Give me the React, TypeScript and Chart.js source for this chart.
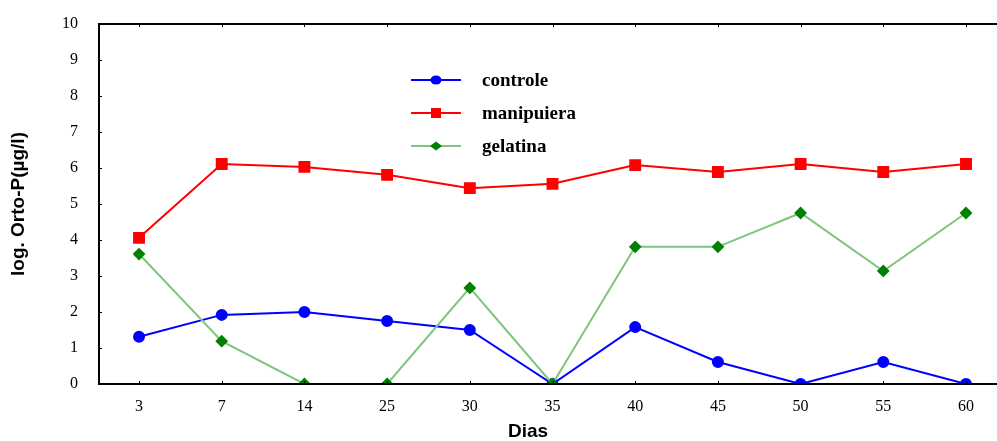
import React, { useEffect, useRef } from "react";
import { Chart, registerables } from "chart.js";

Chart.register(...registerables);

const dias: string[] = ["3", "7", "14", "25", "30", "35", "40", "45", "50", "55", "60"];
const controle: number[] = [1.31, 1.92, 2.0, 1.75, 1.5, 0, 1.58, 0.61, 0, 0.61, 0];
const manipuiera: number[] = [4.06, 6.11, 6.03, 5.81, 5.44, 5.56, 6.08, 5.89, 6.11, 5.89, 6.11];
const gelatina: number[] = [3.61, 1.19, 0, 0, 2.67, 0, 3.81, 3.81, 4.75, 3.14, 4.75];
const yTicks: number[] = [0, 1, 2, 3, 4, 5, 6, 7, 8, 9, 10];
const seriesNames: string[] = ["controle", "manipuiera", "gelatina"];
const xTitle = "Dias";
const yTitle = "log. Orto-P(µg/l)";

const SERIF = "'Liberation Serif', 'Times New Roman', serif";
const SANS = "'Liberation Sans', Arial, sans-serif";

const framePlugin = {
  id: "frame",
  afterDraw(chart: any) {
    const { ctx, chartArea } = chart;
    const { left, right, top, bottom } = chartArea;
    const xs = chart.scales.x;
    const ys = chart.scales.y;
    ctx.save();
    ctx.strokeStyle = "#000";
    ctx.lineWidth = 2;
    ctx.beginPath();
    ctx.moveTo(left, top);
    ctx.lineTo(right + 2, top);
    ctx.moveTo(left, top - 1);
    ctx.lineTo(left, bottom + 1);
    ctx.moveTo(left - 1, bottom);
    ctx.lineTo(right + 2, bottom);
    ctx.stroke();
    ctx.lineWidth = 1;
    ctx.beginPath();
    for (let i = 0; i < dias.length; i++) {
      const px = Math.round(xs.getPixelForValue(i)) + 0.5;
      ctx.moveTo(px, bottom);
      ctx.lineTo(px, bottom - 3);
      ctx.moveTo(px, top);
      ctx.lineTo(px, top + 3);
    }
    for (const v of yTicks) {
      const py = Math.round(ys.getPixelForValue(v)) + 0.5;
      ctx.moveTo(left, py);
      ctx.lineTo(left + 3, py);
    }
    ctx.stroke();

    // x title
    ctx.fillStyle = "#000";
    ctx.font = `bold 19px ${SANS}`;
    ctx.textAlign = "center";
    ctx.textBaseline = "middle";
    ctx.fillText(xTitle, 528, 432);

    // legend
    const rows = [80, 113, 146];
    chart.data.datasets.forEach((ds: any, i: number) => {
      const y = rows[i];
      ctx.strokeStyle = ds.borderColor;
      ctx.lineWidth = ds.borderWidth;
      ctx.beginPath();
      ctx.moveTo(411, y);
      ctx.lineTo(461, y);
      ctx.stroke();
      ctx.fillStyle = ds.pointBackgroundColor;
      ctx.beginPath();
      if (ds.pointStyle === "circle") {
        ctx.ellipse(436, y, 5.5, 4.5, 0, 0, Math.PI * 2);
      } else if (ds.pointStyle === "rect") {
        ctx.rect(431, y - 5, 10, 10);
      } else {
        ctx.moveTo(430, y);
        ctx.lineTo(436, y - 4.5);
        ctx.lineTo(442, y);
        ctx.lineTo(436, y + 4.5);
        ctx.closePath();
      }
      ctx.fill();
      ctx.fillStyle = "#000";
      ctx.font = `bold 19px ${SERIF}`;
      ctx.textAlign = "left";
      ctx.textBaseline = "middle";
      ctx.fillText(seriesNames[i], 482, y + 1);
    });
    ctx.restore();
  },
};

export default function App() {
  const ref = useRef<HTMLCanvasElement | null>(null);
  useEffect(() => {
    if (!ref.current) return;
    const mk = (vals: number[]) => vals.map((v, i) => ({ x: i, y: v }));
    const chart = new Chart(ref.current, {
      type: "line",
      data: {
        datasets: [
          {
            label: seriesNames[0],
            data: mk(controle),
            borderColor: "#0000ff",
            backgroundColor: "#0000ff",
            pointBackgroundColor: "#0000ff",
            pointBorderColor: "#0000ff",
            borderWidth: 2,
            pointStyle: "circle",
            pointRadius: 5,
            clip: 0,
            order: 2,
          } as any,
          {
            label: seriesNames[1],
            data: mk(manipuiera),
            borderColor: "#ff0000",
            backgroundColor: "#ff0000",
            pointBackgroundColor: "#ff0000",
            pointBorderColor: "#ff0000",
            borderWidth: 2,
            pointStyle: "rect",
            pointRadius: 7,
            clip: 0,
            order: 3,
          } as any,
          {
            label: seriesNames[2],
            data: mk(gelatina),
            borderColor: "#7fc47f",
            backgroundColor: "#008000",
            pointBackgroundColor: "#008000",
            pointBorderColor: "#008000",
            borderWidth: 2,
            pointStyle: "rectRot",
            pointRadius: 5,
            clip: 0,
            order: 1,
          } as any,
        ],
      },
      options: {
        animation: false,
        responsive: false,
        maintainAspectRatio: false,
        layout: { padding: { top: 24, right: 0, left: 0, bottom: 0 }, autoPadding: false } as any,
        plugins: { legend: { display: false }, tooltip: { enabled: false } },
        scales: {
          x: {
            type: "linear",
            min: -0.484,
            max: 10.375,
            grid: { display: false, drawTicks: false },
            border: { display: false },
            afterFit: (s: any) => {
              s.height = 57;
              s.paddingLeft = 0;
              s.paddingRight = 0;
            },
            afterBuildTicks: (s: any) => {
              s.ticks = dias.map((_, i) => ({ value: i }));
            },
            ticks: {
              autoSkip: false,
              maxRotation: 0,
              padding: 13,
              color: "#000",
              font: { family: SERIF, size: 16 },
              callback: (v: any) => dias[v as number] ?? "",
            },
          },
          y: {
            type: "linear",
            min: 0,
            max: 10,
            grid: { display: false, drawTicks: false },
            border: { display: false },
            afterFit: (s: any) => {
              s.width = 99;
              s.paddingTop = 0;
              s.paddingBottom = 0;
            },
            afterBuildTicks: (s: any) => {
              s.ticks = yTicks.map((v) => ({ value: v }));
            },
            ticks: {
              padding: 21,
              color: "#000",
              font: { family: SERIF, size: 16 },
            },
            title: {
              display: true,
              text: yTitle,
              color: "#000",
              font: { family: SANS, size: 19, weight: "bold", lineHeight: 1.2 },
              padding: { top: 7, bottom: 0 },
            },
          },
        },
      },
      plugins: [framePlugin],
    });
    return () => chart.destroy();
  }, []);
  return (
    <div style={{ position: "absolute", left: 0, top: 0, width: 997, height: 441, overflow: "hidden" }}>
      <canvas ref={ref} width={997} height={441} style={{ display: "block", width: 997, height: 441 }} />
    </div>
  );
}
